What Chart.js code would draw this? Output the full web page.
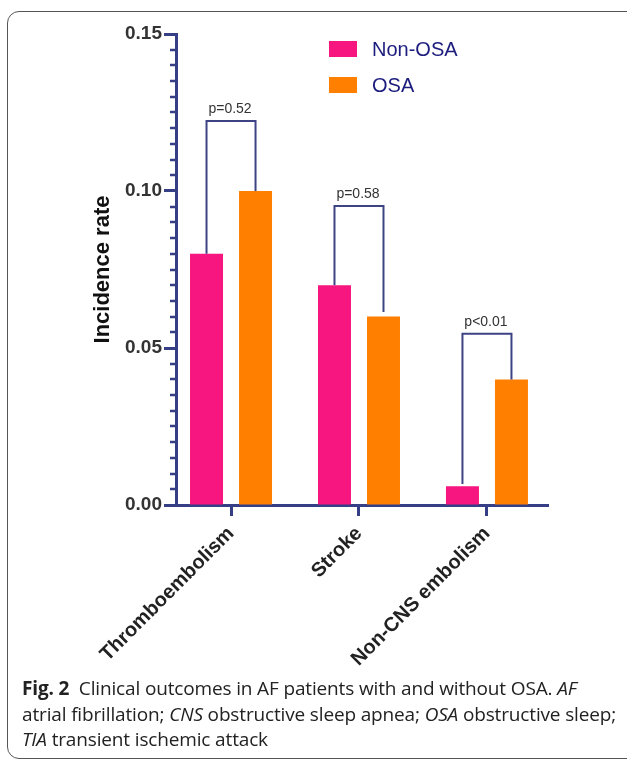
<!DOCTYPE html>
<html>
<head>
<meta charset="utf-8">
<script src="https://cdn.jsdelivr.net/npm/chart.js@4.4.1/dist/chart.umd.min.js"></script>
<style>
  html, body { margin: 0; padding: 0; background: #fff; }
  #wrap { position: relative; width: 627px; height: 761px; overflow: hidden; }
  #c { position: absolute; left: 0; top: 0; }
  #frame { position: absolute; left: 7px; top: 11px; width: 630px; height: 746px;
           border: 1px solid #555; border-radius: 12px; pointer-events: none; }
  #cap { position: absolute; left: 22px; top: 676px; font-family: "Open Sans", sans-serif;
         font-size: 19px; line-height: 25.5px; color: #222; letter-spacing: -0.15px; white-space: nowrap; }
  #cap b { font-weight: 700; }
</style>
</head>
<body>
<div id="wrap">
  <canvas id="c" width="627" height="670"></canvas>
  <div id="frame"></div>
  <div id="cap"><b>Fig. 2</b>&nbsp; Clinical outcomes in AF patients with and without OSA. <i>AF</i><br>atrial fibrillation; <i>CNS</i> obstructive sleep apnea; <i>OSA</i> obstructive sleep;<br><i>TIA</i> transient ischemic attack</div>
</div>
<script>
const categories = ["Thromboembolism", "Stroke", "Non-CNS embolism"];
const seriesNames = ["Non-OSA", "OSA"];
const nonOSA = [0.08, 0.07, 0.006];
const osa = [0.10, 0.06, 0.04];
const pLabels = ["p=0.52", "p=0.58", "p<0.01"];
const bracketTop = [0.1223, 0.0952, 0.0545];
const bracketLegNonOSA = [0.08, 0.07, 0.0067];
const bracketLegOSA = [0.10, 0.0615, 0.04];
const yMajorTicks = [0, 0.05, 0.10, 0.15];

const NAVY = "#363e86";
const PINK = "#f7157f";
const ORANGE = "#ff8000";

const extras = {
  id: "extras",
  afterDraw(chart) {
    const ctx = chart.ctx;
    const y = chart.scales.y;
    const ca = chart.chartArea;
    // minor ticks
    ctx.save();
    ctx.strokeStyle = NAVY;
    ctx.lineWidth = 2.5;
    for (let i = 0; i <= 30; i++) {
      if (i % 10 === 0) continue;
      const v = i * 0.005;
      const py = Math.round(y.getPixelForValue(v));
      ctx.beginPath();
      ctx.moveTo(ca.left - 6, py);
      ctx.lineTo(ca.left, py);
      ctx.stroke();
    }
    // brackets
    const m0 = chart.getDatasetMeta(0), m1 = chart.getDatasetMeta(1);
    ctx.strokeStyle = "#3d4383";
    ctx.lineWidth = 2;
    ctx.font = "14px Arial, 'Liberation Sans', sans-serif";
    ctx.fillStyle = "#333";
    ctx.textAlign = "center";
    ctx.textBaseline = "alphabetic";
    for (let j = 0; j < categories.length; j++) {
      const x1 = m0.data[j].x, x2 = m1.data[j].x;
      const top = y.getPixelForValue(bracketTop[j]);
      ctx.beginPath();
      ctx.moveTo(x1, y.getPixelForValue(bracketLegNonOSA[j]));
      ctx.lineTo(x1, top);
      ctx.lineTo(x2, top);
      ctx.lineTo(x2, y.getPixelForValue(bracketLegOSA[j]));
      ctx.stroke();
      ctx.fillText(pLabels[j], (x1 + x2) / 2 - 1, top - 8);
    }
    // legend
    const ds = chart.data.datasets;
    ctx.font = "20px Arial, 'Liberation Sans', sans-serif";
    ctx.textAlign = "left";
    ctx.textBaseline = "middle";
    const lx = 329, ly = [49, 85];
    ds.forEach((d, i) => {
      ctx.fillStyle = d.backgroundColor;
      ctx.fillRect(lx, ly[i] - 8, 28, 16);
      ctx.fillStyle = "#1c1c7e";
      ctx.fillText(d.label, lx + 43, ly[i] + 1);
    });
    ctx.restore();
  }
};

new Chart(document.getElementById("c"), {
  type: "bar",
  data: {
    datasets: [
      { label: seriesNames[0], data: nonOSA.map((v, i) => ({ x: i, y: v })), backgroundColor: PINK },
      { label: seriesNames[1], data: osa.map((v, i) => ({ x: i, y: v })), backgroundColor: ORANGE }
    ]
  },
  options: {
    responsive: false,
    animation: false,
    categoryPercentage: 0.766,
    barPercentage: 0.673,
    layout: { padding: { left: 90, top: 34, right: 79, bottom: 0 } },
    plugins: { legend: { display: false }, tooltip: { enabled: false } },
    scales: {
      x: {
        type: "linear",
        offset: false,
        min: -0.43,
        max: 2.477,
        afterBuildTicks: s => { s.ticks = categories.map((_, i) => ({ value: i })); },
        afterFit: s => { s.height = 165; },
        grid: { offset: false, drawOnChartArea: false, drawTicks: true, tickLength: 11, tickWidth: 3, tickColor: NAVY },
        border: { color: NAVY, width: 3 },
        ticks: {
          autoSkip: false,
          minRotation: 45, maxRotation: 45,
          padding: 6,
          color: "#222",
          font: { family: "Arial, 'Liberation Sans', sans-serif", size: 20, weight: "bold" },
          callback: v => categories[v]
        }
      },
      y: {
        min: 0, max: 0.15,
        afterBuildTicks: s => { s.ticks = yMajorTicks.map(v => ({ value: v })); },
        afterFit: s => { s.width = 86; },
        grid: { drawOnChartArea: false, drawTicks: true, tickLength: 12, tickWidth: 3, tickColor: NAVY },
        border: { color: NAVY, width: 3 },
        title: {
          display: true, text: "Incidence rate", color: "#111", padding: 0,
          font: { family: "Arial, 'Liberation Sans', sans-serif", size: 22, weight: "bold" }
        },
        ticks: {
          padding: 2,
          color: "#333",
          font: { family: "Arial, 'Liberation Sans', sans-serif", size: 19, weight: "bold" },
          callback: v => v.toFixed(2)
        }
      }
    }
  },
  plugins: [extras]
});
</script>
</body>
</html>
